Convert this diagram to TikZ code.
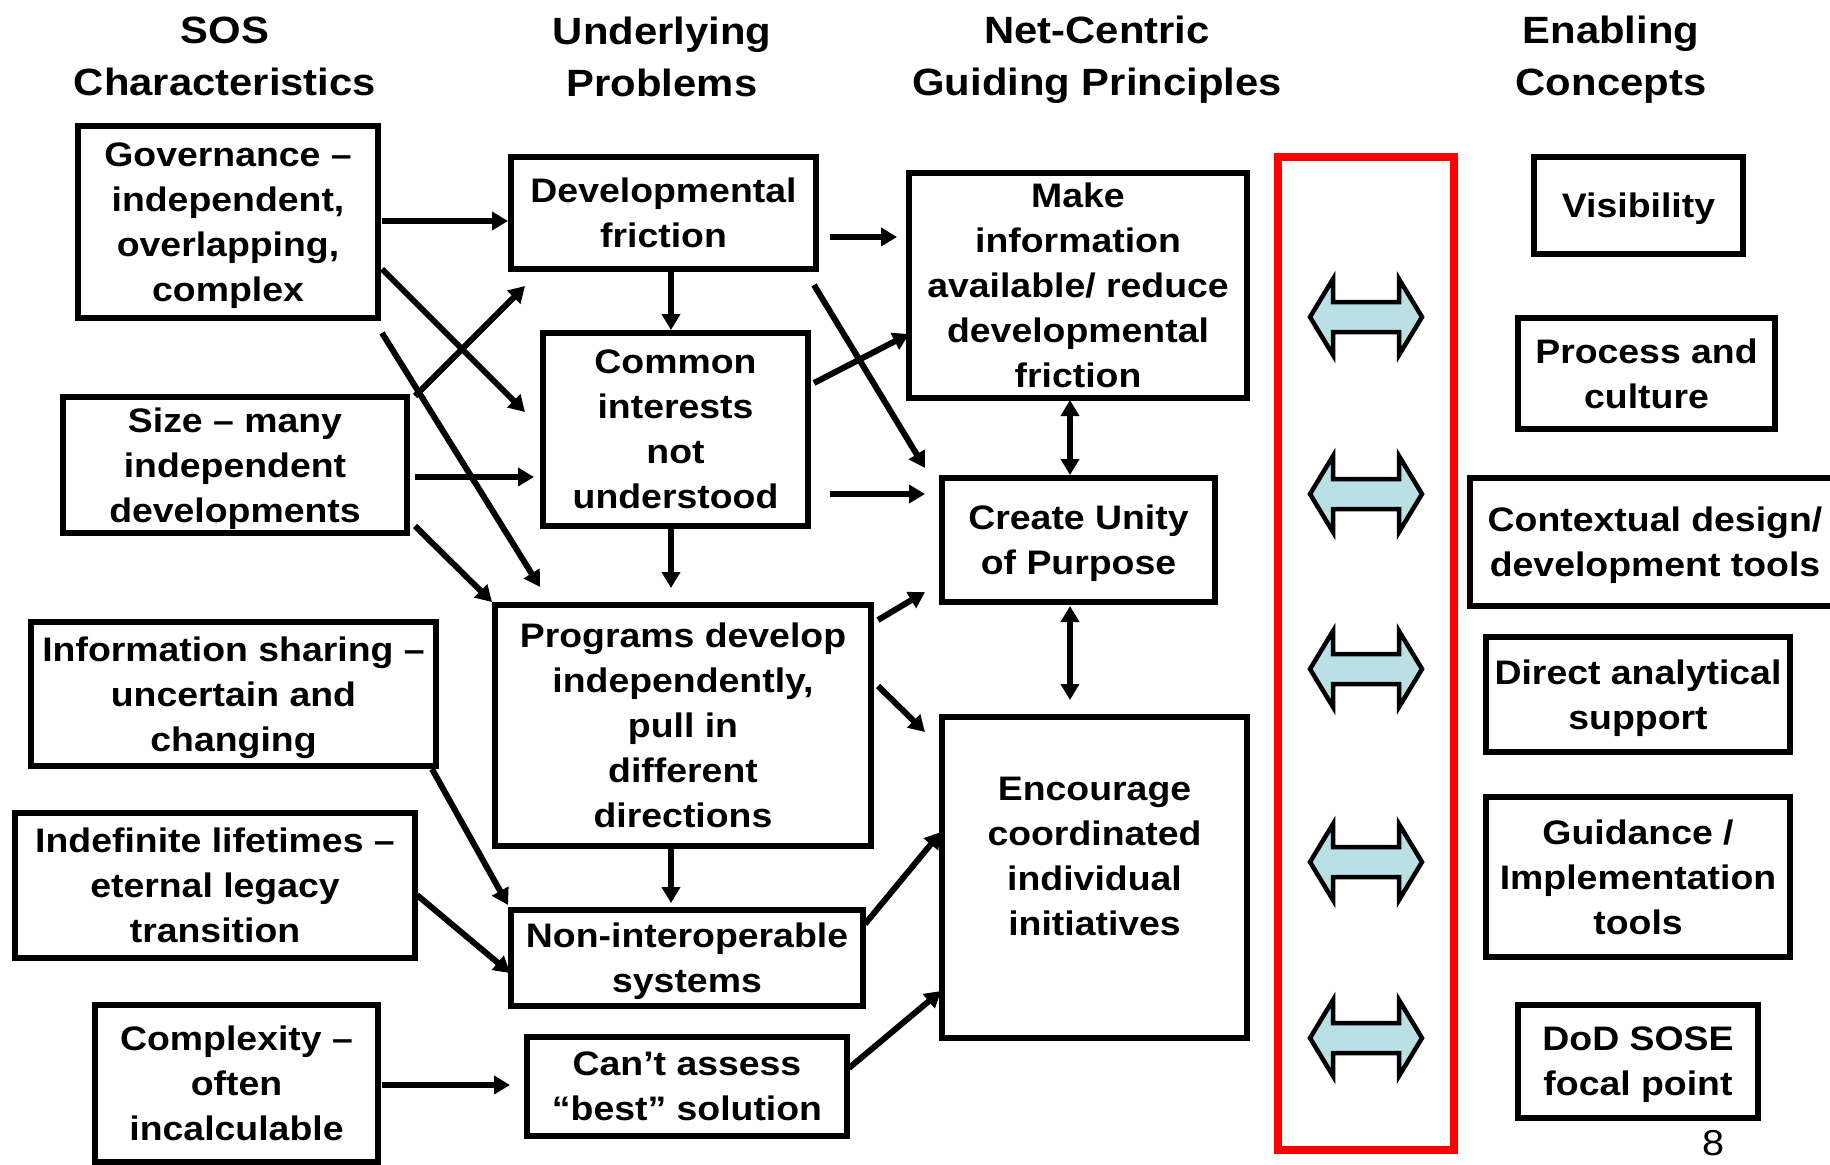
\documentclass[tikz,border=0pt]{standalone}
\usepackage{fontspec}
\setmainfont{Liberation Sans}[FakeStretch=1.1]
\usetikzlibrary{arrows.meta,calc}
\definecolor{arrowfill}{RGB}{185,224,228}
\newcommand\bxfont{\bfseries\fontsize{34}{45}\selectfont}
\newcommand\hdfont{\bfseries\fontsize{38}{52}\selectfont}
\newcommand\nodp[1]{\raisebox{0pt}[\height][0pt]{#1}}
\tikzset{
  box/.style={draw, line width=6pt, inner sep=0pt, outer sep=0pt, align=center, font=\bxfont},
  txt/.style={inner sep=0pt, align=center, font=\bxfont},
  hdr/.style={inner sep=0pt, align=center, font=\hdfont},
  arr/.style={line width=6pt, -{Triangle[length=16pt,width=18pt]}},
  darr/.style={line width=6pt, {Triangle[length=16pt,width=18pt]}-{Triangle[length=16pt,width=18pt]}},
  dblarrow/.style={draw=black, line width=4.5pt, fill=arrowfill, line join=miter},
}
\begin{document}
\begin{tikzpicture}[x=1pt,y=-1pt]
\useasboundingbox (0,0) rectangle (1830,1164);
\fill[white] (0,0) rectangle (1830,1164);

% headers
\node[hdr] (h1) at (225,56.5) {SOS\\Characteristics};
\node[hdr] (h2) at (662,56.5) {Underlying\\Problems};
\node[hdr] (h3) at (1097,60) {Net-Centric\\Guiding Principles};
\node[hdr] (h4) at (1611,60) {Enabling\\Concepts};

% column 1
\node[box, minimum width=300pt, minimum height=192pt] (gov) at (228,222) {Governance –\\independent,\\overlapping,\\\nodp{complex}};
\node[box, minimum width=344pt, minimum height=136pt] (size) at (235,465) {Size – many\\independent\\\nodp{developments}};
\node[box, minimum width=405pt, minimum height=144pt] (info) at (233.5,694) {Information sharing –\\uncertain and\\\nodp{changing}};
\node[box, minimum width=400pt, minimum height=145pt] (indef) at (215,885.5) {Indefinite lifetimes –\\eternal legacy\\transition};
\node[box, minimum width=283pt, minimum height=157pt] (cplx) at (236.5,1083.5) {Complexity –\\often\\incalculable};

% column 2
\node[box, minimum width=305pt, minimum height=112pt] (df) at (663.5,213) {Developmental\\friction};
\node[box, minimum width=265pt, minimum height=193pt] (ci) at (675.5,429.5) {Common\\interests\\not\\understood};
\node[box, minimum width=376pt, minimum height=241pt] (prog) at (683,725.5) {Programs develop\\independently,\\pull in\\different\\directions};
\node[box, minimum width=352pt, minimum height=96pt] (ni) at (687,958) {Non-interoperable\\\nodp{systems}};
\node[box, minimum width=320pt, minimum height=99pt] (ca) at (687,1086.5) {Can’t assess\\“best” solution};

% column 3
\node[box, minimum width=338pt, minimum height=225pt] (mi) at (1078,285.5) {Make\\information\\available/ reduce\\developmental\\friction};
\node[box, minimum width=273pt, minimum height=124pt] (cu) at (1078.5,540) {Create Unity\\\nodp{of Purpose}};
\node[box, minimum width=305pt, minimum height=321pt] (enc) at (1094.5,877.5) {};
\node[txt] (encT) at ($(enc.center)+(0,-21)$) {Encourage\\coordinated\\individual\\initiatives};

% red band
\node[draw=red, line width=8pt, inner sep=0pt, outer sep=0pt, minimum width=176pt, minimum height=993pt] (band) at (1366,653.5) {};
\foreach \yy in {317,494,669,862,1038}{
  \draw[dblarrow, shift={(1366,\yy)}] (-56,0) -- (-33,-38) -- (-33,-15) -- (33,-15) -- (33,-38) -- (56,0) -- (33,38) -- (33,15) -- (-33,15) -- (-33,38) -- cycle;
}

% column 4
\node[box, minimum width=209pt, minimum height=97pt] (vis) at (1638.5,205.5) {\nodp{Visibility}};
\node[box, minimum width=257pt, minimum height=111pt] (pc) at (1646.5,373.5) {Process and\\culture};
\node[box, minimum width=370pt, minimum height=128pt] (ctx) at (1655,542) {Contextual design/\\\nodp{development tools}};
\node[box, minimum width=304pt, minimum height=115pt] (da) at (1638,694.5) {Direct analytical\\\nodp{support}};
\node[box, minimum width=304pt, minimum height=160pt] (gd) at (1638,877) {Guidance /\\Implementation\\tools};
\node[box, minimum width=240pt, minimum height=113pt] (dod) at (1638,1061.5) {DoD SOSE\\\nodp{focal point}};

\node[inner sep=0pt, anchor=base, font=\fontsize{36}{40}\selectfont] (pg) at (1713,1155) {8};

% connectors column 1 -> column 2
\draw[arr] ($(gov.east)+(4,-1)$) -- ($(gov.east -| df.west)+(-3,-1)$);
\draw[arr] ($(gov.east)+(4,47)$) -- ($(ci.west)+(-18,-17.5)$);
\draw[arr] ($(gov.south east)+(4,15)$) -- ($(prog.north west)+(45,-18)$);
\draw[arr] ($(size.north east)+(8,-1)$) -- ($(df.south west)+(14,17)$);
\draw[arr] ($(size.east)+(8,12)$) -- ($(size.east -| ci.west)+(-9,12)$);
\draw[arr] ($(size.south east)+(8,-7)$) -- ($(prog.north west)+(-3,-3)$);
\draw[arr] ($(info.south east)+(-4,3)$) -- ($(ni.north west)+(-3,-5)$);
\draw[arr] ($(indef.east)+(2,9.5)$) -- ($(ni.west)+(-1,15)$);
\draw[arr] ($(cplx.east)+(4,1.5)$) -- ($(cplx.east -| ca.west)+(-17,1.5)$);

% within column 2
\draw[arr] ($(df.south)+(7.5,3)$) -- ($(df.south |- ci.north)+(7.5,-3)$);
\draw[arr] ($(ci.south)+(-4.5,2)$) -- ($(ci.south |- prog.north)+(-4.5,-17)$);
\draw[arr] ($(prog.south)+(-12,2)$) -- ($(prog.south |- ni.north)+(-12,-7)$);

% column 2 -> column 3
\draw[arr] ($(df.east)+(14,24)$) -- ($(df.east -| mi.west)+(-12,24)$);
\draw[arr] ($(df.south east)+(-2,16)$) -- ($(cu.north west)+(-17,-10)$);
\draw[arr] ($(ci.north east)+(6,50)$) -- ($(mi.south west)+(0,-64)$);
\draw[arr] ($(ci.east)+(22,64.5)$) -- ($(ci.east -| cu.west)+(-17,64.5)$);
\draw[arr] ($(prog.north east)+(7,15)$) -- ($(cu.south west)+(-17,-10)$);
\draw[arr] ($(prog.east)+(7,-39.5)$) -- ($(enc.north west)+(-17,15)$);
\draw[arr] ($(ni.north east)+(2,14)$) -- ($(enc.west)+(-1,-45.5)$);
\draw[arr] ($(ca.east)+(2,-18.5)$) -- ($(enc.south west)+(-1,-47)$);

% within column 3
\draw[darr] ($(mi.south)+(-8,2)$) -- ($(mi.south |- cu.north)+(-8,-3)$);
\draw[darr] ($(cu.south)+(-8.5,4)$) -- ($(cu.south |- enc.north)+(-8.5,-17)$);
\end{tikzpicture}
\end{document}
